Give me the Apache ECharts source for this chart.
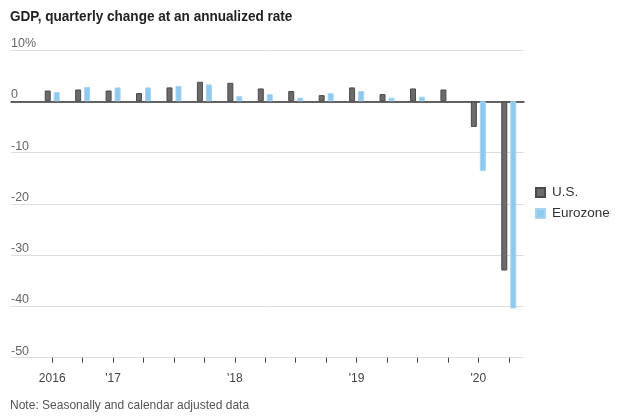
<!DOCTYPE html>
<html>
<head>
<meta charset="utf-8">
<script src="https://cdn.jsdelivr.net/npm/echarts@6/dist/echarts.min.js"></script>
<style>
html,body{margin:0;padding:0;background:#fff;}
#chart{width:640px;height:418px;}
</style>
</head>
<body>
<div id="chart"></div>
<script>
var quarters = ['2016 Q3','2016 Q4','2017 Q1','2017 Q2','2017 Q3','2017 Q4','2018 Q1','2018 Q2','2018 Q3','2018 Q4','2019 Q1','2019 Q2','2019 Q3','2019 Q4','2020 Q1','2020 Q2'];
var tickLabels = ['2016','',"'17",'','','',"'18",'','','',"'19",'','','',"'20",''];
var usValues = [2.1, 2.3, 2.1, 1.6, 2.7, 3.8, 3.6, 2.5, 2.0, 1.2, 2.7, 1.4, 2.5, 2.3, -5.0, -33.0];
// 2019 Q4 Eurozone: no visible bar in the reference
var ezValues = [1.8, 2.8, 2.7, 2.7, 3.0, 3.3, 1.0, 1.4, 0.7, 1.6, 2.0, 0.7, 0.9, null, -13.6, -40.4];
var yTicks = [-50, -40, -30, -20, -10, 0, 10];
var titleText = 'GDP, quarterly change at an annualized rate';
var noteText = 'Note: Seasonally and calendar adjusted data';

var sans = '"Liberation Sans", Arial, sans-serif';
var chart = echarts.init(document.getElementById('chart'));
var gridPos = {top: 50, bottom: 60.3, right: 116};
chart.setOption({
  animation: false,
  backgroundColor: '#fff',
  graphic: [
    {type: 'text', x: 10, y: 9, scaleX: 0.875,
     style: {text: titleText, fontFamily: sans, fontSize: 15.5, fontWeight: 'bold', fill: '#222', verticalAlign: 'top'}},
    {type: 'text', x: 10, y: 398, scaleX: 0.89,
     style: {text: noteText, fontFamily: sans, fontSize: 13.5, fill: '#555', verticalAlign: 'top'}}
  ],
  legend: {
    orient: 'vertical', left: 530, top: 180,
    icon: 'rect',
    itemWidth: 9, itemHeight: 9, itemGap: 6,
    textStyle: {fontFamily: sans, fontSize: 13.5, color: '#333', lineHeight: 15, padding: [0,0,0,2]},
    data: ['U.S.', 'Eurozone']
  },
  grid: [
    {left: 11, top: gridPos.top, bottom: gridPos.bottom, right: gridPos.right},
    {left: 37, top: gridPos.top, bottom: gridPos.bottom, right: gridPos.right}
  ],
  xAxis: [
    {gridIndex: 0, type: 'value', min: 0, max: 1,
     axisLine: {show: true, onZero: true, lineStyle: {color: '#333', width: 1.5}},
     axisTick: {show: false}, axisLabel: {show: false}, splitLine: {show: false}},
    {gridIndex: 1, type: 'category', data: quarters,
     axisLine: {show: false, onZero: false},
     axisTick: {show: true, alignWithLabel: true, interval: 0, length: 5, lineStyle: {color: '#444', width: 1}},
     axisLabel: {interval: 0, margin: 15, fontFamily: sans, fontSize: 12, color: '#444',
       formatter: function (v, i) { return tickLabels[i]; }},
     splitLine: {show: false}}
  ],
  yAxis: [
    {gridIndex: 0, type: 'value', min: yTicks[0], max: yTicks[yTicks.length-1], interval: 10,
     axisLine: {show: false}, axisTick: {show: false},
     axisLabel: {inside: true, margin: 0, verticalAlign: 'bottom', padding: [0,0,0,0],
       fontFamily: sans, fontSize: 12.5, color: '#666',
       formatter: function (v) { return v === 10 ? '10%' : String(v); }},
     splitLine: {show: true, lineStyle: {color: '#dedede', width: 1}}},
    {gridIndex: 1, type: 'value', min: yTicks[0], max: yTicks[yTicks.length-1], interval: 10,
     show: false, splitLine: {show: false}}
  ],
  series: [
    {name: 'U.S.', type: 'bar', xAxisIndex: 1, yAxisIndex: 1, data: usValues,
     barWidth: 6, barGap: '50%',
     itemStyle: {color: '#6b6b6b', borderColor: '#4a4a4a', borderWidth: 1}},
    {name: 'Eurozone', type: 'bar', xAxisIndex: 1, yAxisIndex: 1, data: ezValues,
     barWidth: 6, barGap: '50%',
     itemStyle: {color: '#90c9ee', borderColor: '#a6d4f2', borderWidth: 1}}
  ]
});
</script>
</body>
</html>
